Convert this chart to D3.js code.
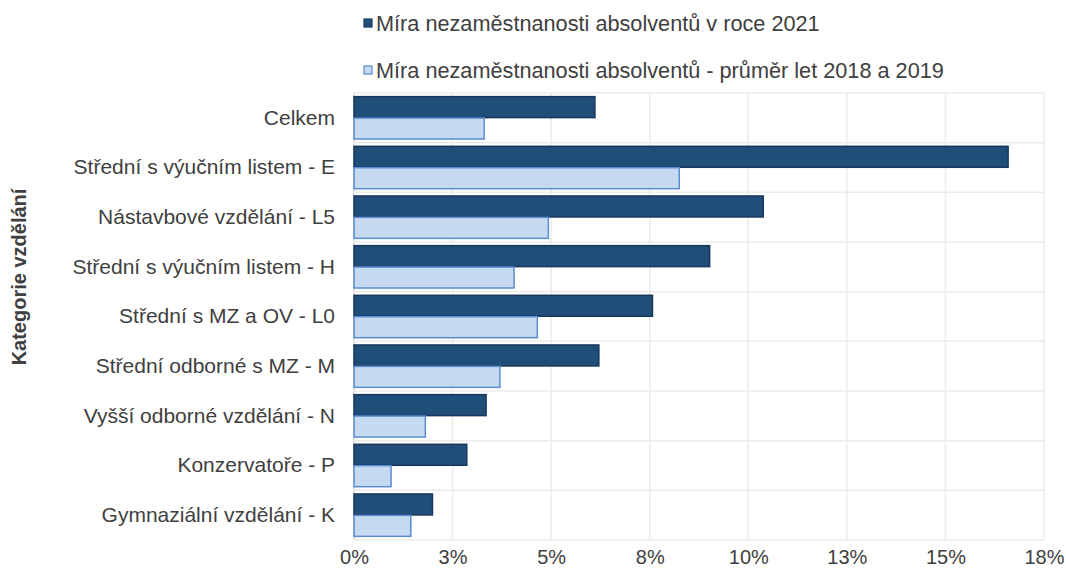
<!DOCTYPE html>
<html>
<head>
<meta charset="utf-8">
<script src="https://cdn.jsdelivr.net/npm/d3@7"></script>
<style>
  body { margin: 0; background: #fff; }
  text { font-family: "Liberation Sans", Arial, sans-serif; fill: #404040; }
</style>
</head>
<body>
<script>
// data
const categories = [
  "Celkem",
  "Střední s výučním listem - E",
  "Nástavbové vzdělání - L5",
  "Střední s výučním listem - H",
  "Střední s MZ a OV - L0",
  "Střední odborné s MZ - M",
  "Vyšší odborné vzdělání - N",
  "Konzervatoře - P",
  "Gymnaziální vzdělání - K"
]
const rate2021 = [6.11, 16.59, 10.38, 9.02, 7.57, 6.21, 3.35, 2.86, 1.99]
const rateAvg1819 = [3.30, 8.25, 4.93, 4.06, 4.65, 3.70, 1.81, 0.94, 1.44]
const seriesNames = [
  "Míra nezaměstnanosti absolventů v roce 2021",
  "Míra nezaměstnanosti absolventů - průměr let 2018 a 2019"
]
const tickValues = [0, 2.5, 5, 7.5, 10, 12.5, 15, 17.5]
const tickLabels = ["0%", "3%", "5%", "8%", "10%", "13%", "15%", "18%"]

const W = 1066, H = 572
const margin = {left: 354, right: 22, top: 93, bottom: 32}

const svg = d3.select("body").append("svg")
    .attr("width", W)
    .attr("height", H)

const x = d3.scaleLinear().domain([0, 17.5]).range([margin.left, W - margin.right])
const y = d3.scaleBand().domain(categories).range([margin.top, H - margin.bottom])
const inner = d3.scaleBand().domain([0, 1]).range([0, y.bandwidth()]).paddingOuter(0.17).paddingInner(0.02)

// grid
svg.append("g")
    .selectAll("line.v")
    .data(tickValues)
    .enter().append("line")
    .attr("x1", d => x(d)).attr("x2", d => x(d))
    .attr("y1", margin.top).attr("y2", H - margin.bottom)
    .attr("stroke", d => d == 0 ? "#d9d9d9" : "#ebebeb")
    .attr("stroke-width", 1.5)

svg.append("g")
    .selectAll("line.h")
    .data(categories.concat(["end"]))
    .enter().append("line")
    .attr("x1", margin.left).attr("x2", x(17.5))
    .attr("y1", (d, i) => margin.top + i * y.step())
    .attr("y2", (d, i) => margin.top + i * y.step())
    .attr("stroke", "#ebebeb")
    .attr("stroke-width", 1.5)

// bars
const colors = [{fill: "#1f4e79", stroke: "#17375e"}, {fill: "#c5d9f1", stroke: "#5b8bd0"}]
const allSeries = [rate2021, rateAvg1819]

allSeries.forEach(function(vals, s) {
  svg.append("g").selectAll("rect")
    .data(vals)
    .enter().append("rect")
    .attr("x", x(0))
    .attr("y", (d, i) => y(categories[i]) + inner(s))
    .attr("width", d => x(d) - x(0))
    .attr("height", inner.bandwidth())
    .attr("fill", colors[s].fill)
    .attr("stroke", colors[s].stroke)
    .attr("stroke-width", 1.5)
})

// y axis labels
const yAxis = d3.axisLeft(y).tickSize(0).tickPadding(19)
const gy = svg.append("g")
    .attr("transform", "translate(" + margin.left + ",0)")
    .call(yAxis)
gy.select(".domain").remove()
gy.selectAll("text")
    .style("font-size", "21px")
    .attr("fill", "#404040")

// x axis labels
const xAxis = d3.axisBottom(x).tickValues(tickValues).tickFormat((d, i) => tickLabels[i]).tickSize(0).tickPadding(10)
const gx = svg.append("g")
    .attr("transform", "translate(0," + (H - margin.bottom) + ")")
    .call(xAxis)
gx.select(".domain").remove()
gx.selectAll("text")
    .style("font-size", "20px")
    .attr("fill", "#404040")

// axis title
svg.append("text")
    .attr("transform", "translate(19,277) rotate(-90)")
    .attr("text-anchor", "middle")
    .attr("dy", "0.35em")
    .style("font-size", "20px")
    .style("font-weight", "bold")
    .attr("fill", "#111")
    .text("Kategorie vzdělání")

// legend
const legend = svg.append("g")
legend.selectAll("g")
    .data(seriesNames)
    .enter().append("g")
    .attr("transform", (d, i) => "translate(364," + (23 + i * 47) + ")")
    .each(function(d, i) {
      const g = d3.select(this)
      g.append("rect")
        .attr("x", 0).attr("y", -4)
        .attr("width", 8).attr("height", 8)
        .attr("fill", colors[i].fill)
        .attr("stroke", colors[i].stroke)
        .attr("stroke-width", 1.2)
      g.append("text")
        .attr("x", 12).attr("y", 0)
        .attr("dy", "0.35em")
        .style("font-size", "21.7px")
        .text(d)
    })
</script>
</body>
</html>
